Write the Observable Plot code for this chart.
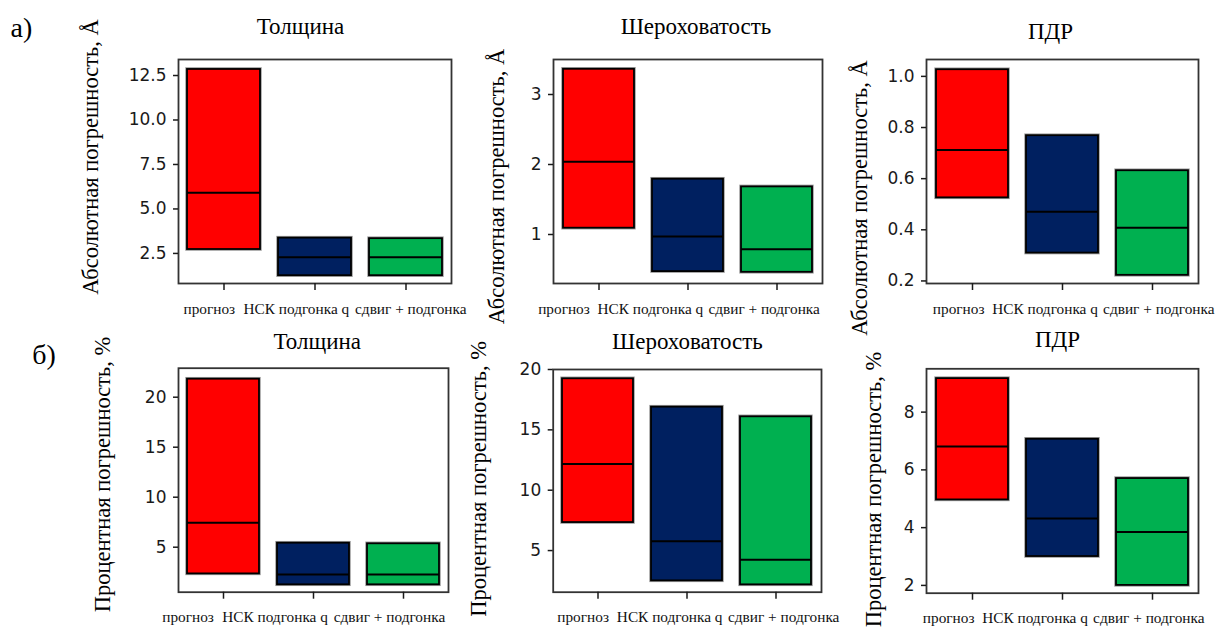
<!DOCTYPE html>
<html>
<head>
<meta charset="utf-8">
<script src="https://cdn.jsdelivr.net/npm/d3@7"></script>
<script src="https://cdn.jsdelivr.net/npm/@observablehq/plot@0.6"></script>
<style>
  html, body { margin: 0; padding: 0; background: #fff; }
  #fig { position: relative; width: 1217px; height: 635px; background: #fff; overflow: hidden; }
  #fig svg { position: absolute; }
</style>
</head>
<body>
<div id="fig"></div>
<script>
// ---------- data ----------
const categories = ["прогноз", "НСК подгонка q", "сдвиг + подгонка"];
const seriesColors = ["#ff0000", "#002060", "#00b050"];
const panelTitles = ["Толщина", "Шероховатость", "ПДР"];
const rowLabels = ["а)", "б)"];
const yLabels = ["Абсолютная погрешность, Å", "Процентная погрешность, %"];

// absolute error, Å  (lower quartile, median, upper quartile)
const absThickQ1 = [2.72, 1.25, 1.25];
const absThickMed = [5.91, 2.28, 2.28];
const absThickQ3 = [12.84, 3.36, 3.33];

const absRoughQ1 = [1.09, 0.47, 0.46];
const absRoughMed = [2.04, 0.97, 0.79];
const absRoughQ3 = [3.36, 1.79, 1.68];

const absPdrQ1 = [0.525, 0.309, 0.222];
const absPdrMed = [0.712, 0.471, 0.408];
const absPdrQ3 = [1.026, 0.768, 0.631];

// percentage error, %
const pctThickQ1 = [2.33, 1.24, 1.24];
const pctThickMed = [7.44, 2.27, 2.27];
const pctThickQ3 = [21.8, 5.4, 5.34];

const pctRoughQ1 = [7.32, 2.49, 2.16];
const pctRoughMed = [12.18, 5.77, 4.23];
const pctRoughQ3 = [19.23, 16.88, 16.08];

const pctPdrQ1 = [4.96, 3.0, 2.0];
const pctPdrMed = [6.81, 4.32, 3.85];
const pctPdrQ3 = [9.16, 7.06, 5.7];

// tick labels
const absThickTicks = [2.5, 5.0, 7.5, 10.0, 12.5];
const absRoughTicks = [1, 2, 3];
const absPdrTicks = [0.2, 0.4, 0.6, 0.8, 1.0];
const pctThickTicks = [5, 10, 15, 20];
const pctRoughTicks = [5, 10, 15, 20];
const pctPdrTicks = [2, 4, 6, 8];

// ---------- layout ----------
const panels = [
  {row: 0, col: 0, q1: absThickQ1, med: absThickMed, q3: absThickQ3, ticks: absThickTicks, fmt: d3.format(".1f"),
   domain: [0.81, 13.4], svg: [0, 0, 460, 320], frame: [178, 451, 59, 283],
   titleDx: -14.5, titleDy: -25.7, ylDx: -88, ylDy: -14.5, lblShift: 5},
  {row: 0, col: 1, q1: absRoughQ1, med: absRoughMed, q3: absRoughQ3, ticks: absRoughTicks, fmt: d3.format("d"),
   domain: [0.3, 3.5], svg: [460, 0, 380, 320], frame: [553, 822, 59, 283],
   titleDx: 8, titleDy: -25.7, ylDx: -57, ylDy: 15, lblShift: -16},
  {row: 0, col: 2, q1: absPdrQ1, med: absPdrMed, q3: absPdrQ3, ticks: absPdrTicks, fmt: d3.format(".1f"),
   domain: [0.19, 1.066], svg: [840, 0, 377, 320], frame: [926, 1198, 59, 283],
   titleDx: -12, titleDy: -21, ylDx: -67, ylDy: 26.5, lblShift: 5.7},
  {row: 1, col: 0, q1: pctThickQ1, med: pctThickMed, q3: pctThickQ3, ticks: pctThickTicks, fmt: d3.format("d"),
   domain: [0.5, 22.9], svg: [0, 320, 460, 315], frame: [178, 448, 367.7, 591.7],
   titleDx: 3.7, titleDy: -19.7, ylDx: -76, ylDy: -5.7, lblShift: -16.3},
  {row: 1, col: 1, q1: pctRoughQ1, med: pctRoughMed, q3: pctRoughQ3, ticks: pctRoughTicks, fmt: d3.format("d"),
   domain: [1.55, 20], svg: [460, 320, 380, 315], frame: [552.7, 821, 369, 591.7],
   titleDx: 0, titleDy: -20.7, ylDx: -74, ylDy: -2, lblShift: 4},
  {row: 1, col: 2, q1: pctPdrQ1, med: pctPdrMed, q3: pctPdrQ3, ticks: pctPdrTicks, fmt: d3.format("d"),
   domain: [1.73, 9.5], svg: [840, 320, 377, 315], frame: [926, 1198, 368.3, 592.7],
   titleDx: -5, titleDy: -21.6, ylDx: -53, ylDy: 8.5, lblShift: -4.3}
];
const rowLabelPos = [{dx: -168, dy: -23}, {dx: -146.3, dy: -4.7}];

const serif = "'Liberation Serif', 'Times New Roman', serif";
const sans = "'DejaVu Sans', sans-serif";
const fig = document.getElementById("fig");

for (const p of panels) {
  const [left, top, width, height] = p.svg;
  const [fx0, fx1, fy0, fy1] = p.frame;
  const rows = categories.map((c, i) => ({cat: c, q1: p.q1[i], med: p.med[i], q3: p.q3[i]}));
  const step = (fx1 - fx0) / categories.length;
  const tickX = i => fx0 + step * (i + 0.5);
  const g = fx0 + p.lblShift;
  const lblTargets = [
    {x: g, anchor: "start"},
    {x: g + 60, anchor: "start"},
    {x: g + 283, anchor: "end"}
  ];
  const labelMarks = categories.map((c, i) => Plot.text([c], {
    x: d => d, text: d => d, frameAnchor: "bottom", lineAnchor: "bottom",
    textAnchor: lblTargets[i].anchor, dx: lblTargets[i].x - tickX(i), dy: 30,
    fontFamily: serif, fontSize: 15.3, fill: "#111"
  }));
  const extra = [];
  if (p.col === 0) {
    extra.push(Plot.text([rowLabels[p.row]], {
      text: d => d, frameAnchor: "top-left", textAnchor: "start", lineAnchor: "bottom",
      dx: rowLabelPos[p.row].dx, dy: rowLabelPos[p.row].dy, fontFamily: serif, fontSize: 28
    }));
  }
  const chart = Plot.plot({
    width, height,
    marginLeft: fx0 - left, marginRight: left + width - fx1,
    marginTop: fy0 - top, marginBottom: top + height - fy1,
    style: {overflow: "visible", background: "transparent"},
    x: {type: "band", domain: categories, paddingInner: 0.2, paddingOuter: 0.1, axis: null},
    y: {domain: p.domain, axis: null},
    color: {domain: categories, range: seriesColors},
    marks: [
      Plot.barY(rows, {x: "cat", y1: "q1", y2: "q3", stroke: "#9a9a9a", strokeWidth: 3.5, fill: "none"}),
      Plot.barY(rows, {x: "cat", y1: "q1", y2: "q3", fill: "cat", stroke: "#000", strokeWidth: 1.8}),
      Plot.tickY(rows, {x: "cat", y: "med", stroke: "#000", strokeWidth: 2}),
      Plot.frame({stroke: "#333", strokeWidth: 1.8}),
      Plot.axisY({ticks: p.ticks, tickFormat: p.fmt, tickSize: 5, tickPadding: 7, fontSize: 17,
                  fontFamily: sans, color: "#1a1a1a", strokeWidth: 1.5, label: null}),
      Plot.axisX({tickSize: 7, tickFormat: () => "", color: "#1a1a1a", strokeWidth: 1.5, label: null}),
      ...labelMarks,
      Plot.text([panelTitles[p.col]], {
        text: d => d, frameAnchor: "top", lineAnchor: "bottom", dx: p.titleDx, dy: p.titleDy,
        fontFamily: serif, fontSize: 23
      }),
      Plot.text([yLabels[p.row]], {
        text: d => d, frameAnchor: "left", rotate: -90, lineAnchor: "middle", textAnchor: "middle",
        dx: p.ylDx, dy: p.ylDy, fontFamily: serif, fontSize: 22.5
      }),
      ...extra
    ]
  });
  chart.style.left = left + "px";
  chart.style.top = top + "px";
  fig.appendChild(chart);
}
</script>
</body>
</html>
